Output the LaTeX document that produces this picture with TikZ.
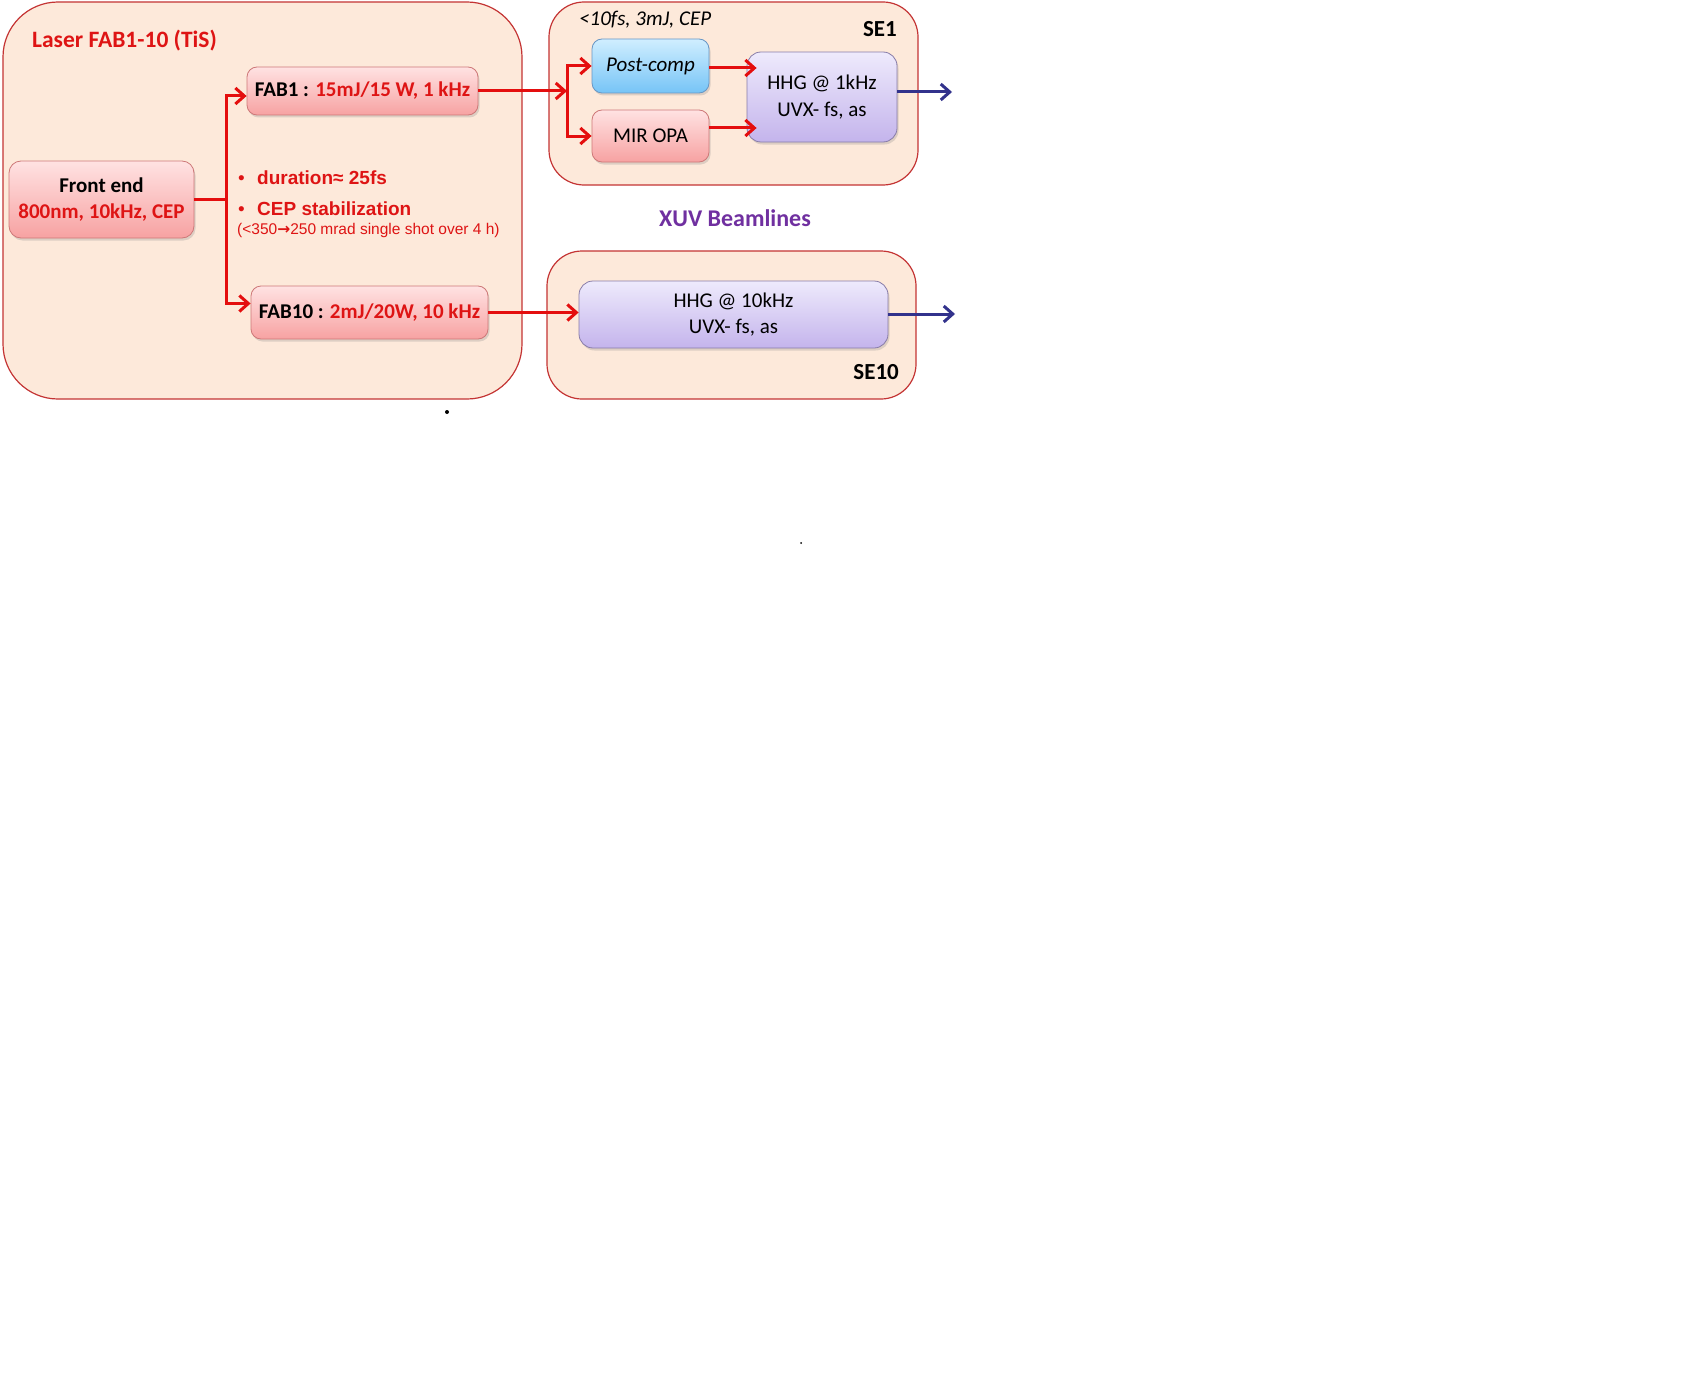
\documentclass[tikz,border=0pt]{standalone}
\usepackage{fontspec}
\setmainfont{Carlito}
\newfontfamily\arialfont{Liberation Sans}
\newfontfamily\symfont{DejaVu Sans}
\usetikzlibrary{arrows.meta,shadows}

\definecolor{laserred}{RGB}{222,20,20}
\definecolor{arrowred}{RGB}{228,14,14}
\definecolor{peach}{RGB}{253,233,218}
\definecolor{framered}{RGB}{196,52,52}
\definecolor{pinktop}{RGB}{255,226,226}
\definecolor{pinkbot}{RGB}{247,162,162}
\definecolor{pinkline}{RGB}{205,120,120}
\definecolor{skytop}{RGB}{208,238,255}
\definecolor{skybot}{RGB}{118,196,246}
\definecolor{skyline}{RGB}{104,150,196}
\definecolor{lilactop}{RGB}{238,234,252}
\definecolor{lilacbot}{RGB}{196,180,236}
\definecolor{lilacline}{RGB}{136,124,168}
\definecolor{navy}{RGB}{50,50,140}
\definecolor{xuvpurple}{RGB}{112,48,160}

\newcommand{\fsz}[2]{\fontsize{#1}{#2}\selectfont}

\begin{document}
\begin{tikzpicture}[
    x=1pt, y=-1pt,
    every node/.style={
        inner sep=0pt,
        font=\fsz{21}{26.5},
    },
    area/.style={
        draw=framered,
        line width=1.2pt,
        fill=peach,
    },
    box/.style={
        rectangle,
        align=center,
        line width=0.8pt,
        rounded corners=10pt,
        drop shadow={opacity=0.25, shadow xshift=1.5pt, shadow yshift=-2.5pt},
    },
    redbox/.style={box, draw=pinkline, top color=pinktop, bottom color=pinkbot},
    bluebox/.style={box, draw=skyline, top color=skytop, bottom color=skybot},
    lilacbox/.style={box, draw=lilacline, top color=lilactop, bottom color=lilacbot, rounded corners=14pt},
    redarrow/.style={
        draw=arrowred,
        line width=3pt,
        -{Straight Barb[length=9pt,width=16pt]},
    },
    bluearrow/.style={
        draw=navy,
        line width=3pt,
        -{Straight Barb[length=9pt,width=16pt]},
    },
]
    \fill[white] (0, 0) rectangle (1704, 1394);
    \useasboundingbox (0, 0) rectangle (1704, 1394);

    % areas
    \draw[area, rounded corners=55pt] (3, 2) rectangle (522, 399);
    \draw[area, rounded corners=35pt] (549, 2) rectangle (918, 185);
    \draw[area, rounded corners=35pt] (547, 251) rectangle (916, 399);

    % laser
    \node[anchor=west, text=laserred, font=\fsz{23.5}{28}\bfseries] (title) at (32, 41) {Laser FAB1-10 (TiS)};
    \node[redbox, rounded corners=12pt, minimum width=185pt, minimum height=77pt] (frontend) at (101.5, 199.5)
        {\textbf{Front end}\\\textcolor{laserred}{\textbf{800nm, 10kHz, CEP}}};
    \node[redbox, minimum width=231pt, minimum height=48pt] (fab1) at (362.5, 91)
        {\textbf{FAB1 : \textcolor{laserred}{15mJ/15 W, 1 kHz}}};
    \node[redbox, minimum width=237pt, minimum height=53pt] (fab10) at (369.5, 312.5)
        {\textbf{FAB10 : \textcolor{laserred}{2mJ/20W, 10 kHz}}};

    \node[anchor=west, text=laserred, font=\arialfont\fsz{19}{22}\bfseries] (duration) at (238, 178)
        {\makebox[19pt][l]{\mdseries •}duration≈ 25fs};
    \node[anchor=west, text=laserred, font=\arialfont\fsz{19}{22}\bfseries] (cep) at (238, 209)
        {\makebox[19pt][l]{\mdseries •}CEP stabilization};
    \node[anchor=west, text=laserred, font=\arialfont\fsz{15.5}{18}] (jitter) at (237, 230)
        {(<350{\symfont\bfseries →}250 mrad single shot over 4 h)};

    % SE1
    \node[anchor=west, font=\fsz{21}{25}\itshape] (spec) at (579, 20) {<10fs, 3mJ, CEP};
    \node[anchor=east, font=\fsz{23}{27}\bfseries] (se1) at (897, 29) {SE1};
    \node[bluebox, minimum width=117pt, minimum height=54pt] (postcomp) at (650.5, 66) {\textit{Post-comp}};
    \node[redbox, minimum width=117pt, minimum height=52pt] (mir) at (650.5, 136) {MIR OPA};
    \node[lilacbox, minimum width=150pt, minimum height=90pt] (hhgA) at (822, 97) {HHG @ 1kHz\\UVX- fs, as};

    \node[text=xuvpurple, font=\fsz{24}{28}\bfseries] (xuv) at (735, 218) {XUV Beamlines};

    % SE10
    \node[lilacbox, minimum width=309pt, minimum height=67pt] (hhgB) at (733.5, 314.5) {HHG @ 10kHz\\UVX- fs, as};
    \node[anchor=east, font=\fsz{23}{27}\bfseries] (se10) at (899, 372) {SE10};

    % beams
    \coordinate (split1) at (226, 199.5);
    \coordinate (split2) at (567, 91);
    \coordinate (outA) at (952, 92);
    \coordinate (outB) at (955, 314);

    \draw[draw=arrowred, line width=3pt] (frontend.east) -- (split1);
    \draw[redarrow] (split1) |- ([yshift=-5pt]fab1.west);
    \draw[redarrow] (split1) |- ([yshift=9pt]fab10.west);
    \draw[redarrow] (fab1.east) -- (split2);
    \foreach \b in {postcomp, mir} {
        \draw[redarrow] (split2) |- (\b.west);
    }
    \draw[redarrow, shorten >=-10pt] ([yshift=-2pt]postcomp.east) -- ([yshift=-2pt]postcomp.east -| hhgA.west);
    \draw[redarrow, shorten >=-10pt] ([yshift=8pt]mir.east) -- ([yshift=8pt]mir.east -| hhgA.west);
    \draw[redarrow] (fab10.east) -- (fab10.east -| hhgB.west);
    \draw[bluearrow] (hhgA.east |- outA) -- (outA);
    \draw[bluearrow] (hhgB.east |- outB) -- (outB);

    \fill (447, 412) circle (2);
    \fill (801, 543) circle (1);
\end{tikzpicture}
\end{document}
